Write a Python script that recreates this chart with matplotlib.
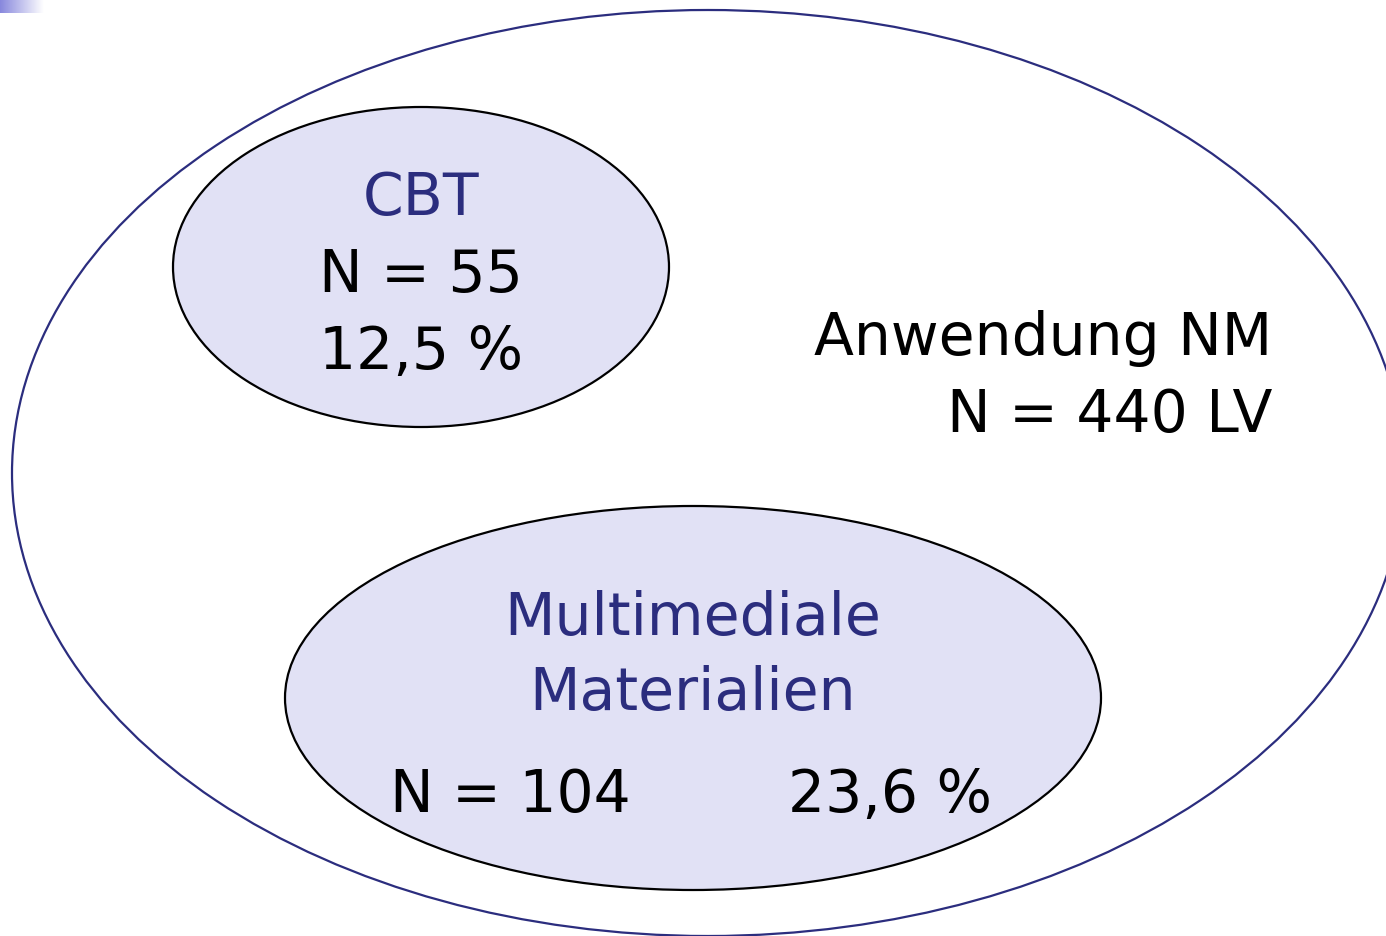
import numpy as np
import matplotlib.pyplot as plt
from matplotlib.patches import Ellipse

# Values shown in the diagram
total_n = 440
cbt_n = 55
cbt_pct = "12,5 %"
mm_n = 104
mm_pct = "23,6 %"

# Ellipse geometry in pixel units: centre x, centre y, width, height
outer = [708, 473, 1392, 926]
cbt = [421, 267, 496, 320]
mm = [693, 698, 816, 384]

navy = '#2B2D7E'
fill = '#E1E1F5'

fig = plt.figure(figsize=(13.86, 9.36), dpi=100)
ax = fig.add_axes([0, 0, 1, 1])
ax.set_xlim(0, 1386)
ax.set_ylim(936, 0)
ax.axis('off')

# small gradient in the top left corner
grad = np.linspace(0, 1, 100).reshape(1, -1)
ax.imshow(grad, cmap=plt.matplotlib.colors.LinearSegmentedColormap.from_list('g', ['#8888DD', '#FFFFFF']),
          extent=[0, 44, 13, 0], aspect='auto', zorder=0)

ax.add_patch(Ellipse((outer[0], outer[1]), outer[2], outer[3], facecolor='none',
                     edgecolor=navy, lw=1.6, zorder=1))
ax.add_patch(Ellipse((cbt[0], cbt[1]), cbt[2], cbt[3], facecolor=fill,
                     edgecolor='black', lw=1.6, zorder=2))
ax.add_patch(Ellipse((mm[0], mm[1]), mm[2], mm[3], facecolor=fill,
                     edgecolor='black', lw=1.6, zorder=2))

fs = 42
ax.text(421, 215, 'CBT', color=navy, fontsize=fs, ha='center', va='baseline', zorder=3)
ax.text(421, 292, f'N = {cbt_n}', color='black', fontsize=fs, ha='center', va='baseline', zorder=3)
ax.text(421, 369, cbt_pct, color='black', fontsize=fs, ha='center', va='baseline', zorder=3)

ax.text(1272, 355, 'Anwendung NM', color='black', fontsize=fs, ha='right', va='baseline', zorder=3)
ax.text(1272, 432, f'N = {total_n} LV', color='black', fontsize=fs, ha='right', va='baseline', zorder=3)

ax.text(693, 635, 'Multimediale', color=navy, fontsize=fs, ha='center', va='baseline', zorder=3)
ax.text(693, 710, 'Materialien', color=navy, fontsize=fs, ha='center', va='baseline', zorder=3)
ax.text(510, 812, f'N = {mm_n}', color='black', fontsize=fs, ha='center', va='baseline', zorder=3)
ax.text(890, 812, mm_pct, color='black', fontsize=fs, ha='center', va='baseline', zorder=3)

fig.savefig('out.png', dpi=100)
